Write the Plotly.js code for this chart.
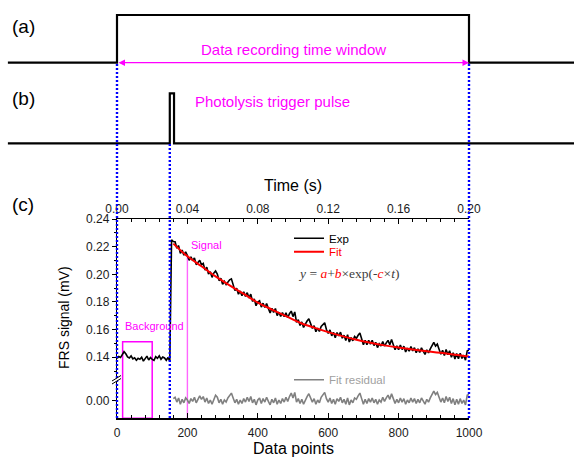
<!DOCTYPE html>
<html>
<head>
<meta charset="utf-8">
<script src="https://cdn.plot.ly/plotly-3.0.1.min.js"></script>
<style>html,body{margin:0;padding:0;background:#fff;}#chart{width:574px;height:457px;}</style>
</head>
<body>
<div id="chart"></div>
<script>
// ---------- data ----------
const sampleStep = 5;              // data points between stored samples
const expStart = 0;
const expValues = [
0.1392,0.1405,0.1398,0.1418,0.1440,0.1425,0.1402,0.1395,0.1410,0.1388,0.1396,0.1378,0.1392,0.1385,0.1400,0.1372,
0.1395,0.1408,0.1380,0.1398,0.1385,0.1378,0.1405,0.1392,0.1410,0.1385,0.1402,0.1395,0.1378,0.1398,0.1372,
0.2250,
0.2237,0.2236,0.2189,0.2208,0.2151,0.2175,0.2138,0.2162,0.2135,0.2101,0.2127,0.2098,0.2119,0.2070,0.2086,0.2102,0.2068,
0.2079,0.2030,0.2051,0.2002,0.2018,0.1978,0.2009,0.2025,0.2002,0.1954,0.1971,0.1928,0.1949,0.1926,0.1948,0.1960,
0.1967,0.1924,0.1882,0.1899,0.1856,0.1878,0.1846,0.1873,0.1840,0.1867,0.1829,0.1856,0.1804,0.1821,0.1773,0.1800,
0.1809,0.1763,0.1791,0.1760,0.1789,0.1753,0.1721,0.1755,0.1724,0.1753,0.1702,0.1726,0.1695,0.1724,0.1693,0.1722,
0.1686,0.1715,0.1734,0.1694,0.1728,0.1652,0.1671,0.1630,0.1656,0.1616,0.1642,0.1662,0.1678,0.1643,0.1609,0.1629,
0.1585,0.1611,0.1587,0.1623,0.1639,0.1650,0.1601,0.1572,0.1598,0.1555,0.1581,0.1542,0.1579,0.1555,0.1582,0.1538,
0.1560,0.1522,0.1563,0.1510,0.1542,0.1519,0.1550,0.1537,0.1559,0.1576,0.1534,0.1491,0.1523,0.1490,0.1523,0.1495,
0.1523,0.1485,0.1508,0.1470,0.1498,0.1481,0.1513,0.1481,0.1504,0.1522,0.1490,0.1528,0.1491,0.1454,0.1482,0.1455,
0.1488,0.1456,0.1480,0.1438,0.1466,0.1444,0.1478,0.1446,0.1469,0.1433,0.1461,0.1435,0.1468,0.1442,0.1420,0.1454,
0.1432,0.1461,0.1489,0.1508,0.1481,0.1495,0.1458,0.1422,0.1450,0.1413,0.1456,0.1419,0.1447,0.1400,0.1433,0.1388,
0.1427,0.1390,0.1429,0.1392,0.1415,0.1379,0.1447,0.1451
];
const fitX = [160,200,240,280,320,360,400,440,480,520,560,600,640,680,720,760,800,840,880,920,960,1000];
const fitY = [0.2222,0.2130,0.2058,0.1985,0.1920,0.1858,0.1795,0.1745,0.1697,0.1650,0.1614,0.1582,
              0.1553,0.1527,0.1505,0.1486,0.1470,0.1456,0.1444,0.1432,0.1418,0.1406];
const residualStart = 160;
const residualValues = [
0.0015,0.0025,-0.0010,0.0020,-0.0025,0.0010,-0.0015,0.0020,0.0005,
-0.0020,0.0015,-0.0005,0.0025,-0.0015,0.0010,0.0035,0.0010,
0.0030,-0.0010,0.0020,-0.0020,0.0005,-0.0025,0.0015,0.0040,
0.0025,-0.0015,0.0010,-0.0025,0.0005,-0.0010,0.0020,0.0040,
0.0055,0.0020,-0.0015,0.0010,-0.0025,0.0005,-0.0020,0.0015,
-0.0010,0.0025,-0.0005,0.0030,-0.0015,0.0010,-0.0030,0.0005,
0.0020,-0.0020,0.0015,-0.0010,0.0025,-0.0005,-0.0030,0.0010,
-0.0015,0.0020,-0.0025,0.0005,-0.0020,0.0015,-0.0010,0.0025,
-0.0005,0.0030,0.0055,0.0020,0.0060,-0.0010,0.0015,-0.0020,
0.0010,-0.0025,0.0005,0.0030,0.0050,0.0020,-0.0010,0.0015,
-0.0025,0.0005,-0.0015,0.0025,0.0045,0.0060,0.0015,-0.0010,
0.0020,-0.0020,0.0010,-0.0025,0.0015,-0.0005,0.0025,-0.0015,
0.0010,-0.0025,0.0020,-0.0030,0.0005,-0.0015,0.0020,0.0010,
0.0035,0.0055,0.0015,-0.0025,0.0010,-0.0020,0.0015,-0.0010,
0.0020,-0.0015,0.0010,-0.0025,0.0005,-0.0010,0.0025,-0.0005,
0.0020,0.0040,0.0010,0.0050,0.0015,-0.0020,0.0010,-0.0015,
0.0020,-0.0010,0.0015,-0.0025,0.0005,-0.0015,0.0020,-0.0010,
0.0015,-0.0020,0.0010,-0.0015,0.0020,-0.0005,-0.0025,0.0010,
-0.0010,0.0020,0.0050,0.0070,0.0045,0.0060,0.0025,-0.0010,
0.0020,-0.0015,0.0030,-0.0005,0.0025,-0.0020,0.0015,-0.0030,
0.0010,-0.0025,0.0015,-0.0020,0.0005,-0.0030,0.0040,0.0045
];
const timeTicks = [0, 0.04, 0.08, 0.12, 0.16, 0.20];
const windowStart = 0, windowEnd = 1000;      // data recording window (data points)
const triggerStart = 150, triggerEnd = 162;   // photolysis pulse (data points)
const timingFrom = -310, timingTo = 1300;
const backgroundRange = [16, 100];
const backgroundTop = 0.1512;
const signalPoint = 200, signalTop = 0.2128;

// ---------- helpers ----------
const W = 574, H = 457;
const px = x => x / W;
const py = y => (H - y) / H;
const idx = (start, n) => Array.from({length: n}, (_, i) => start + i * sampleStep);

const expX = idx(expStart, expValues.length);
const resX = idx(residualStart, residualValues.length);

const yUp = [0.125, 0.24];
const yLow = [-0.0127, 0.0164];
const MAG = '#ff00ff';

const traces = [
  {x: [timingFrom, windowStart, windowStart, windowEnd, windowEnd, timingTo], y: [0,0,1,1,0,0],
   xaxis: 'x3', yaxis: 'y3', mode: 'lines', line: {color: '#000', width: 2.2}, showlegend: false, hoverinfo: 'skip'},
  {x: [timingFrom, triggerStart, triggerStart, triggerEnd, triggerEnd, timingTo], y: [0,0,1,1,0,0],
   xaxis: 'x3', yaxis: 'y4', mode: 'lines', line: {color: '#000', width: 2.2}, showlegend: false, hoverinfo: 'skip'},
  {x: [backgroundRange[0], backgroundRange[0], backgroundRange[1], backgroundRange[1]],
   y: [yUp[0]-0.01, backgroundTop, backgroundTop, yUp[0]-0.01], xaxis: 'x', yaxis: 'y', mode: 'lines',
   line: {color: MAG, width: 1.5}, showlegend: false, hoverinfo: 'skip'},
  {x: [backgroundRange[0], backgroundRange[0], backgroundRange[1], backgroundRange[1]],
   y: [yLow[1]+0.01, yLow[0], yLow[0], yLow[1]+0.01], xaxis: 'x', yaxis: 'y2', mode: 'lines',
   line: {color: MAG, width: 1.5}, showlegend: false, hoverinfo: 'skip'},
  {x: [signalPoint, signalPoint], y: [yUp[0]-0.01, signalTop], xaxis: 'x', yaxis: 'y', mode: 'lines',
   line: {color: '#ff66ff', width: 1.4}, showlegend: false, hoverinfo: 'skip'},
  {x: [signalPoint, signalPoint], y: [yLow[0]-0.01, yLow[1]+0.01], xaxis: 'x', yaxis: 'y2', mode: 'lines',
   line: {color: '#ff66ff', width: 1.4}, showlegend: false, hoverinfo: 'skip'},
  {x: expX, y: expValues, xaxis: 'x', yaxis: 'y', mode: 'lines', name: 'Exp', legend: 'legend',
   line: {color: '#000', width: 1.6}},
  {x: fitX, y: fitY, xaxis: 'x', yaxis: 'y', mode: 'lines', name: 'Fit', legend: 'legend2',
   line: {color: '#ff0000', width: 2, shape: 'spline'}},
  {x: resX, y: residualValues, xaxis: 'x', yaxis: 'y2', mode: 'lines', name: 'Fit residual', legend: 'legend3',
   line: {color: '#808080', width: 1.6}},
  {x: timeTicks, y: timeTicks.map(() => null), xaxis: 'x2', yaxis: 'y', mode: 'lines',
   showlegend: false, hoverinfo: 'skip'}
];

const tickFont = {size: 12, color: '#1a1a1a', family: 'Liberation Sans, Arial, sans-serif'};
const axBase = {showline: true, linecolor: '#000', linewidth: 1.2, showgrid: false, zeroline: false,
                tickcolor: '#000', tickwidth: 1, tickfont: tickFont};
const xDom = [px(117), px(469)];

const legendBase = {xanchor: 'left', yanchor: 'middle', bgcolor: 'rgba(0,0,0,0)', borderwidth: 0,
                    x: px(289), tracegroupgap: 0};

function note(text, x, y, size, extra) {
  return Object.assign({text: text, xref: 'paper', yref: 'paper', x: x, y: y, xanchor: 'center',
                        yanchor: 'middle', showarrow: false, font: {size: size}}, extra || {});
}

const blueDot = {color: '#0000ff', width: 2.4, dash: '2px,2px'};

const layout = {
  width: W, height: H, margin: {l: 0, r: 0, t: 0, b: 0},
  paper_bgcolor: '#fff', plot_bgcolor: 'rgba(0,0,0,0)',
  font: {family: 'Liberation Sans, Arial, sans-serif', color: '#000'},
  showlegend: true,
  legend: Object.assign({}, legendBase, {y: py(238.3), font: {size: 11.5, color: '#000'}}),
  legend2: Object.assign({}, legendBase, {y: py(251.7), font: {size: 11.5, color: '#ff0000'}}),
  legend3: Object.assign({}, legendBase, {y: py(379.7), font: {size: 11.5, color: '#a0a0a0'}}),
  xaxis: Object.assign({}, axBase, {domain: xDom, range: [0, 1000], anchor: 'y2',
    ticks: 'inside', ticklen: 5, tick0: 0, dtick: 200, ticklabelstandoff: 3,
    minor: {ticks: 'inside', ticklen: 3, dtick: 40, tickcolor: '#000'}}),
  xaxis2: Object.assign({}, axBase, {domain: xDom, range: [0, 0.2], anchor: 'y', overlaying: 'x', side: 'top',
    ticks: 'inside', ticklen: 5, tick0: 0, dtick: 0.04, tickformat: '.2f',
    minor: {ticks: 'inside', ticklen: 3, dtick: 0.008, tickcolor: '#000'}}),
  yaxis: Object.assign({}, axBase, {domain: [py(378), py(219)], range: yUp, anchor: 'x',
    ticks: 'outside', ticklen: 4, tick0: 0, dtick: 0.02, tickformat: '.2f',
    minor: {ticks: 'outside', ticklen: 2, dtick: 0.01, tickcolor: '#000'}}),
  yaxis2: Object.assign({}, axBase, {domain: [py(418.3), py(378)], range: yLow, anchor: 'x',
    ticks: 'outside', ticklen: 4, tickvals: [0], tickformat: '.2f'}),
  xaxis3: {domain: [0, 1], range: [-332.4, 1298.3], anchor: 'y3', visible: false},
  yaxis3: {domain: [py(65.1), py(12.6)], range: [-0.05, 1.05], anchor: 'x3', visible: false},
  yaxis4: {domain: [py(145.8), py(90.8)], range: [-0.05, 1.05], anchor: 'x3', visible: false},
  shapes: [
    {type: 'line', xref: 'x3', yref: 'paper', x0: windowStart, x1: windowStart, y0: py(418), y1: py(64), line: blueDot},
    {type: 'line', xref: 'x3', yref: 'paper', x0: triggerStart, x1: triggerStart, y0: py(418), y1: py(144), line: blueDot},
    {type: 'line', xref: 'x3', yref: 'paper', x0: windowEnd, x1: windowEnd, y0: py(418), y1: py(64), line: blueDot},
    {type: 'path', xref: 'paper', yref: 'paper',
     path: `M${px(112)},${py(381)} L${px(121)},${py(375.5)} L${px(121)},${py(378.5)} L${px(112)},${py(384)} Z`,
     fillcolor: '#fff', line: {width: 0}},
    {type: 'line', xref: 'paper', yref: 'paper', x0: px(112), y0: py(381), x1: px(121), y1: py(375.5),
     line: {color: '#000', width: 1}},
    {type: 'line', xref: 'paper', yref: 'paper', x0: px(112), y0: py(384), x1: px(121), y1: py(378.5),
     line: {color: '#000', width: 1}}
  ],
  annotations: [
    note('(a)', px(23), py(26), 19),
    note('(b)', px(23), py(99), 19),
    note('(c)', px(23), py(204), 19),
    {text: '', xref: 'x3', yref: 'y3', x: windowEnd, y: 0, axref: 'x3', ayref: 'y3', ax: windowStart, ay: 0,
     showarrow: true, arrowside: 'end+start', arrowhead: 2, arrowsize: 1, arrowwidth: 1.3, arrowcolor: MAG},
    note('Data recording time window', (windowStart + windowEnd) / 2, py(49), 15,
         {xref: 'x3', font: {size: 15, color: MAG}}),
    note('Photolysis trigger pulse', 215, py(101), 15,
         {xref: 'x3', xanchor: 'left', font: {size: 15, color: MAG}}),
    note('Time (s)', px(293), py(186), 16),
    note('Data points', px(293), py(448), 16),
    note('FRS signal (mV)', px(64), py(318), 14, {textangle: -90}),
    {text: 'Background', xref: 'x', yref: 'y', x: backgroundRange[0], y: 0.1626, xanchor: 'left', yanchor: 'middle',
     showarrow: false, font: {size: 11, color: MAG}},
    {text: 'Signal', xref: 'x', yref: 'y', x: signalPoint + 4, y: 0.2212, xanchor: 'left', yanchor: 'middle',
     showarrow: false, font: {size: 11, color: MAG}},
    note('<i>y</i> = <i><span style="color:#ff0000">a</span></i>+<i><span style="color:#ff0000">b</span></i>×exp(-<i><span style="color:#ff0000">c</span></i>×<i>t</i>)',
         px(296), py(273.3), 13.5,
         {xanchor: 'left', font: {size: 13.5, color: '#404040', family: 'Liberation Serif, Times New Roman, serif'}})
  ]
};

Plotly.newPlot('chart', traces, layout, {staticPlot: true, displayModeBar: false});
</script>
</body>
</html>
